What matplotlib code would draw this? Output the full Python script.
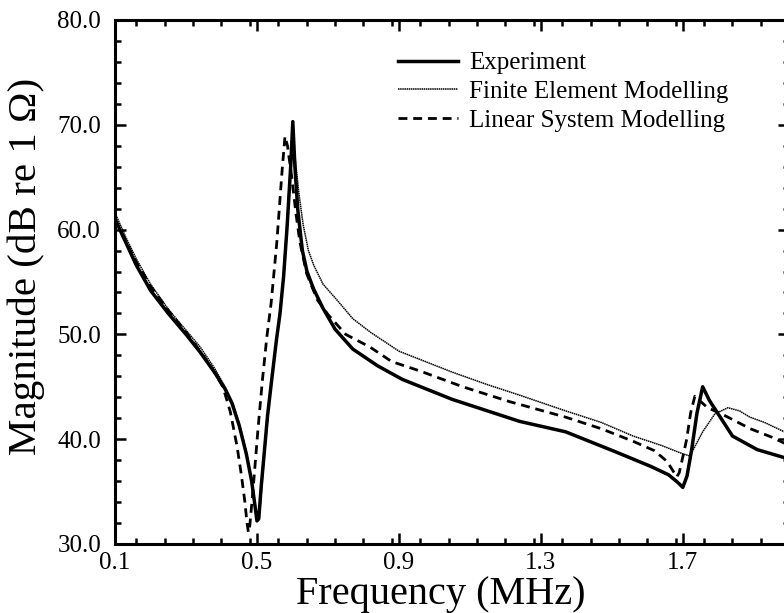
import matplotlib.pyplot as plt
from matplotlib.ticker import MultipleLocator, FormatStrFormatter

plt.rcParams['font.family'] = ['Liberation Serif', 'DejaVu Serif']

# measured impedance magnitude
exp_f = [0.10, 0.13, 0.16, 0.20, 0.25, 0.30, 0.34, 0.38, 0.41, 0.43, 0.45, 0.47,
         0.485, 0.495, 0.500, 0.505, 0.512, 0.520, 0.530, 0.542, 0.555, 0.565,
         0.575, 0.585, 0.595, 0.601, 0.607, 0.615, 0.628, 0.641, 0.66, 0.686,
         0.72, 0.77, 0.84, 0.91, 1.05, 1.24, 1.37, 1.51, 1.61, 1.66, 1.685,
         1.700, 1.712, 1.725, 1.740, 1.756, 1.775, 1.796, 1.84, 1.91, 1.98, 2.00]
exp_db = [61.0, 58.8, 56.6, 54.2, 52.0, 50.0, 48.3, 46.4, 44.8, 43.4, 41.3, 38.6,
          36.0, 33.5, 32.2, 32.4, 35.5, 38.5, 42.3, 45.8, 49.5, 52.0,
          55.5, 60.3, 66.0, 70.3, 66.0, 61.9, 58.0, 56.0, 54.3, 52.5,
          50.5, 48.6, 47.0, 45.7, 43.8, 41.7, 40.7, 38.8, 37.4, 36.6, 35.9,
          35.4, 36.5, 39.0, 42.5, 45.0, 43.7, 42.6, 40.3, 39.0, 38.3, 38.1]

# finite element model
fem_f = [0.10, 0.13, 0.16, 0.20, 0.25, 0.30, 0.34, 0.38, 0.41, 0.43, 0.45, 0.47,
         0.485, 0.495, 0.502, 0.508, 0.515, 0.525, 0.535, 0.548, 0.56, 0.572,
         0.582, 0.592, 0.600, 0.607, 0.618, 0.630, 0.645, 0.66, 0.686, 0.725,
         0.77, 0.82, 0.90, 0.96, 1.05, 1.15, 1.24, 1.37, 1.47, 1.56, 1.64, 1.70,
         1.72, 1.756, 1.79, 1.827, 1.86, 1.889, 1.93, 1.98, 2.00]
fem_db = [61.6, 59.3, 57.2, 54.8, 52.4, 50.4, 48.8, 46.8, 45.0, 43.6, 41.5, 38.8,
          36.2, 33.8, 32.6, 33.0, 36.0, 40.0, 43.5, 47.5, 50.8, 54.5,
          59.5, 65.0, 69.3, 67.0, 63.5, 60.5, 58.0, 56.6, 54.8, 53.3,
          51.5, 50.2, 48.4, 47.6, 46.4, 45.2, 44.2, 42.7, 41.6, 40.3, 39.4, 38.6,
          38.4, 40.7, 42.4, 43.0, 42.7, 42.1, 41.6, 40.8, 40.5]

# linear system model
lin_f = [0.10, 0.13, 0.16, 0.20, 0.25, 0.30, 0.34, 0.38, 0.404, 0.425, 0.444,
         0.456, 0.466, 0.472, 0.476, 0.480, 0.490, 0.503, 0.515, 0.528, 0.540,
         0.556, 0.571, 0.579, 0.586, 0.598, 0.610, 0.621, 0.640, 0.67, 0.70,
         0.75, 0.818, 0.88, 0.96, 1.08, 1.21, 1.37, 1.47, 1.56, 1.62, 1.655,
         1.672, 1.683, 1.690, 1.700, 1.711, 1.722, 1.734, 1.750, 1.77, 1.81,
         1.85, 1.89, 1.95, 2.00]
lin_db = [61.0, 58.9, 56.9, 54.6, 52.3, 50.2, 48.4, 46.4, 45.0, 42.6, 39.3,
          36.6, 34.0, 32.0, 31.1, 31.8, 35.6, 41.0, 45.5, 49.8, 53.0,
          58.8, 65.7, 68.9, 68.0, 65.0, 61.5, 58.8, 55.8, 53.3, 51.9,
          50.0, 48.8, 47.4, 46.5, 45.0, 43.6, 42.1, 41.0, 39.8, 38.9, 37.9,
          37.0, 36.4, 36.8, 38.3, 40.0, 42.5, 44.1, 43.6, 43.0, 42.4,
          41.7, 41.0, 40.2, 39.4]

x_ticks = [0.1, 0.5, 0.9, 1.3, 1.7]

fig = plt.figure(figsize=(7.84, 6.13), dpi=100)
ax = fig.add_axes([0.1467, 0.1126, 0.860, 0.8548])

ax.plot(exp_f, exp_db, color='black', lw=2.5, label='Experiment')
ax.plot(fem_f, fem_db, color='black', lw=1.1, ls=(0, (1, 0.4)),
        label='Finite Element Modelling')
ax.plot(lin_f, lin_db, color='black', lw=2.0, ls=(0, (3.2, 2.1)),
        label='Linear System Modelling')

ax.set_xlim(0.1, 2.0)
ax.set_ylim(30, 80)
ax.set_xticks(x_ticks)
ax.xaxis.set_minor_locator(MultipleLocator(0.08))
ax.yaxis.set_major_locator(MultipleLocator(10))
ax.yaxis.set_minor_locator(MultipleLocator(2))
ax.xaxis.set_major_formatter(FormatStrFormatter('%.1f'))
ax.yaxis.set_major_formatter(FormatStrFormatter('%.1f'))
ax.tick_params(which='both', direction='in', top=True, right=True,
               labelsize=18, width=1.8)
ax.tick_params(axis='x', which='major', pad=6)
ax.tick_params(axis='y', which='major', pad=10)
ax.tick_params(which='major', length=8)
ax.tick_params(which='minor', length=4.5)
for s in ax.spines.values():
    s.set_linewidth(2.2)

ax.set_xlabel('Frequency (MHz)', fontsize=29)
ax.set_ylabel('Magnitude (dB re 1 \u03a9)', fontsize=29.5)
ax.xaxis.set_label_coords(0.483, -0.062)
ax.yaxis.set_label_coords(-0.104, 0.53)

ax.legend(loc='upper left', bbox_to_anchor=(0.42, 0.939), frameon=False,
          fontsize=18, handlelength=2.4, handletextpad=0.45,
          labelspacing=0.25, borderpad=0, borderaxespad=0)

fig.savefig('out.png', dpi=100)
